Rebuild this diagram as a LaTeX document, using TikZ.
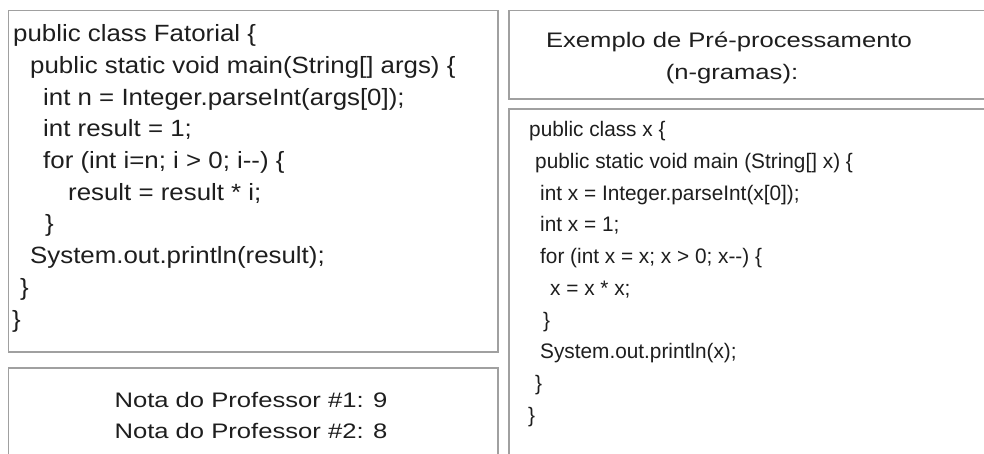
\documentclass[tikz,border=0pt]{standalone}
\usepackage{fontspec}
\setmainfont{Liberation Sans}[FakeStretch=1.1]
\newfontfamily\notefont{Liberation Sans}[FakeStretch=1.22]
\newfontfamily\xfont{Liberation Sans}[FakeStretch=0.99]
\usetikzlibrary{positioning}
\definecolor{framegray}{RGB}{160,160,160}
\definecolor{inkgray}{RGB}{30,30,30}

\begin{document}
\begin{tikzpicture}[x=1pt,y=-1pt,
  boxline/.style={draw=framegray, line width=1.3pt},
  codeline/.style={anchor=base west, inner sep=0pt, text=inkgray, font=\fontsize{23.5}{32}\selectfont},
  xline/.style={anchor=base west, inner sep=0pt, text=inkgray, font=\xfont\fontsize{21}{32}\selectfont},
  notetext/.style={anchor=base, inner sep=0pt, text=inkgray, font=\notefont\fontsize{21}{32}\selectfont}]
\useasboundingbox (0,0) rectangle (984,454);
\clip (0,0) rectangle (984,454);
\fill[white] (0,0) rectangle (984,454);

% frames
\draw[boxline] (8.5,10.5) rectangle (498,352);
\draw[boxline] (8.5,368) rectangle (498,470);
\draw[boxline] (509,10.5) rectangle (1000,99);
\draw[boxline] (509,109) rectangle (1000,470);

% original source
\node[codeline] (l1) at (13,41.7) {public class Fatorial \{};
\node[codeline] (l2) at (30,73.4) {public static void main(String[] args) \{};
\node[codeline] (l3) at (43,105.1) {int n = Integer.parseInt(args[0]);};
\node[codeline] (l4) at (43,136.8) {int result = 1;};
\node[codeline] (l5) at (43,168.5) {for (int i=n; i > 0; i-{}-) \{};
\node[codeline] (l6) at (68,200.2) {result = result * i;};
\node[codeline] (l7) at (45,231.9) {\}};
\node[codeline] (l8) at (30,263.6) {System.out.println(result);};
\node[codeline] (l9) at (20,295.3) {\}};
\node[codeline] (l10) at (12,327) {\}};

% grades
\node[notetext] (n1) at (251,407) {Nota do Professor \#1: 9};
\node[notetext] (n2) at (251,438) {Nota do Professor \#2: 8};

% title
\node[notetext] (t1) at (729,48) {Exemplo de Pré-processamento};
\node[notetext] (t2) at (732,80) {(n-gramas):};

% preprocessed source
\node[xline] (r1) at (529,137) {public class x \{};
\node[xline] (r2) at (535,168.7) {public static void main (String[] x) \{};
\node[xline] (r3) at (540,200.4) {int x = Integer.parseInt(x[0]);};
\node[xline] (r4) at (540,232) {int x = 1;};
\node[xline] (r5) at (540,263.8) {for (int x = x; x > 0; x-{}-) \{};
\node[xline] (r6) at (550,295.5) {x = x * x;};
\node[xline] (r7) at (543,327.2) {\}};
\node[xline] (r8) at (540,358.9) {System.out.println(x);};
\node[xline] (r9) at (535,390.6) {\}};
\node[xline] (r10) at (528,422.3) {\}};
\end{tikzpicture}
\end{document}
